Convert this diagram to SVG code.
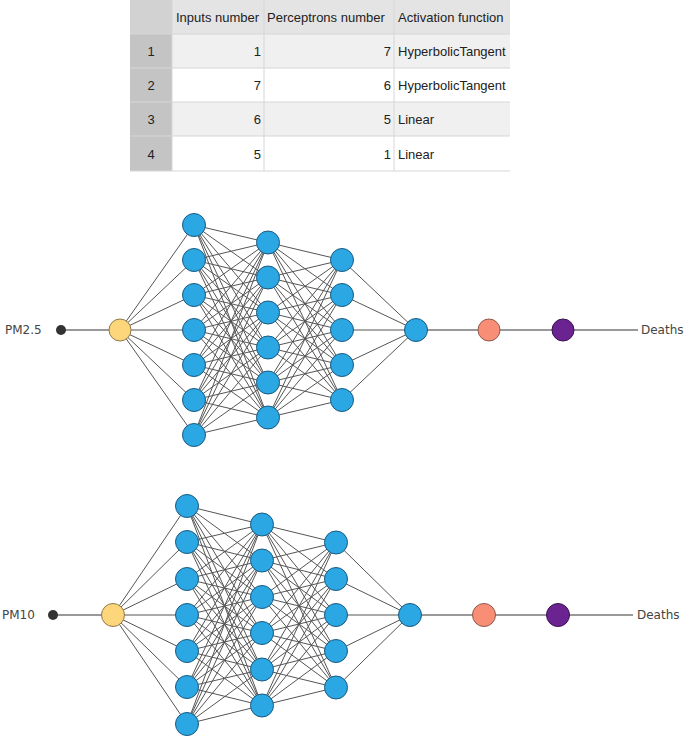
<svg xmlns="http://www.w3.org/2000/svg" width="686" height="739" viewBox="0 0 686 739">
<style>
.tt{font-family:"Liberation Sans",Arial,sans-serif;font-size:13px;fill:#222}
.r{text-anchor:end}
.c{text-anchor:middle}
.lb{font-family:"DejaVu Sans",Verdana,sans-serif;font-size:12px;fill:#444}
.cn line{stroke:#555;stroke-width:1}
.io line{stroke:#777;stroke-width:1.3}
.b{fill:#2ba7e3;stroke:#1c5a80;stroke-width:1}
.y{fill:#fdd57a;stroke:#8d7a4c;stroke-width:1}
.s{fill:#f98e76;stroke:#8e5a4e;stroke-width:1}
.p{fill:#6a2390;stroke:#3a1452;stroke-width:1}
.d{fill:#333}
</style>
<rect width="686" height="739" fill="#fff"/>
<g id="table">
<rect x="130" y="0" width="380" height="34" fill="#e4e4e4"/>
<rect x="130" y="0" width="42" height="34" fill="#d2d2d2"/>
<rect x="130" y="34" width="42" height="137" fill="#c4c4c4"/>
<rect x="172" y="34" width="338" height="34" fill="#f0f0f0"/>
<rect x="172" y="68" width="338" height="34" fill="#fff"/>
<rect x="172" y="102" width="338" height="34" fill="#f0f0f0"/>
<rect x="172" y="136" width="338" height="35" fill="#fff"/>
<g stroke="#d6d6d6" stroke-width="1">
<line x1="130" y1="34" x2="510" y2="34"/>
<line x1="130" y1="68" x2="510" y2="68"/>
<line x1="130" y1="102" x2="510" y2="102"/>
<line x1="130" y1="136" x2="510" y2="136"/>
<line x1="130" y1="171" x2="510" y2="171"/>
<line x1="172" y1="0" x2="172" y2="171"/>
<line x1="264" y1="0" x2="264" y2="171"/>
<line x1="394" y1="0" x2="394" y2="171"/>
</g>
<text class="tt" x="176" y="22">Inputs number</text>
<text class="tt" x="267" y="22">Perceptrons number</text>
<text class="tt" x="398" y="22">Activation function</text>
<text class="tt c" x="151" y="56">1</text>
<text class="tt c" x="151" y="90">2</text>
<text class="tt c" x="151" y="124">3</text>
<text class="tt c" x="151" y="159">4</text>
<text class="tt r" x="261" y="56">1</text>
<text class="tt r" x="261" y="90">7</text>
<text class="tt r" x="261" y="124">6</text>
<text class="tt r" x="261" y="159">5</text>
<text class="tt r" x="391" y="56">7</text>
<text class="tt r" x="391" y="90">6</text>
<text class="tt r" x="391" y="124">5</text>
<text class="tt r" x="391" y="159">1</text>
<text class="tt" x="398" y="56">HyperbolicTangent</text>
<text class="tt" x="398" y="90">HyperbolicTangent</text>
<text class="tt" x="398" y="124">Linear</text>
<text class="tt" x="398" y="159">Linear</text>
</g>
<g id="connectors">
<g class="io">
<line x1="61" y1="330" x2="120" y2="330"/>
<line x1="416" y1="330" x2="638" y2="330"/>
<line x1="53" y1="615" x2="113" y2="615"/>
<line x1="410" y1="615" x2="633" y2="615"/>
</g>
<g class="cn">
<line x1="120" y1="330" x2="194" y2="225"/><line x1="120" y1="330" x2="194" y2="260"/><line x1="120" y1="330" x2="194" y2="295"/><line x1="120" y1="330" x2="194" y2="330"/><line x1="120" y1="330" x2="194" y2="365"/><line x1="120" y1="330" x2="194" y2="400"/><line x1="120" y1="330" x2="194" y2="435"/>
<line x1="194" y1="225" x2="268" y2="242.5"/><line x1="194" y1="225" x2="268" y2="277.5"/><line x1="194" y1="225" x2="268" y2="312.5"/><line x1="194" y1="225" x2="268" y2="347.5"/><line x1="194" y1="225" x2="268" y2="382.5"/><line x1="194" y1="225" x2="268" y2="417.5"/>
<line x1="194" y1="260" x2="268" y2="242.5"/><line x1="194" y1="260" x2="268" y2="277.5"/><line x1="194" y1="260" x2="268" y2="312.5"/><line x1="194" y1="260" x2="268" y2="347.5"/><line x1="194" y1="260" x2="268" y2="382.5"/><line x1="194" y1="260" x2="268" y2="417.5"/>
<line x1="194" y1="295" x2="268" y2="242.5"/><line x1="194" y1="295" x2="268" y2="277.5"/><line x1="194" y1="295" x2="268" y2="312.5"/><line x1="194" y1="295" x2="268" y2="347.5"/><line x1="194" y1="295" x2="268" y2="382.5"/><line x1="194" y1="295" x2="268" y2="417.5"/>
<line x1="194" y1="330" x2="268" y2="242.5"/><line x1="194" y1="330" x2="268" y2="277.5"/><line x1="194" y1="330" x2="268" y2="312.5"/><line x1="194" y1="330" x2="268" y2="347.5"/><line x1="194" y1="330" x2="268" y2="382.5"/><line x1="194" y1="330" x2="268" y2="417.5"/>
<line x1="194" y1="365" x2="268" y2="242.5"/><line x1="194" y1="365" x2="268" y2="277.5"/><line x1="194" y1="365" x2="268" y2="312.5"/><line x1="194" y1="365" x2="268" y2="347.5"/><line x1="194" y1="365" x2="268" y2="382.5"/><line x1="194" y1="365" x2="268" y2="417.5"/>
<line x1="194" y1="400" x2="268" y2="242.5"/><line x1="194" y1="400" x2="268" y2="277.5"/><line x1="194" y1="400" x2="268" y2="312.5"/><line x1="194" y1="400" x2="268" y2="347.5"/><line x1="194" y1="400" x2="268" y2="382.5"/><line x1="194" y1="400" x2="268" y2="417.5"/>
<line x1="194" y1="435" x2="268" y2="242.5"/><line x1="194" y1="435" x2="268" y2="277.5"/><line x1="194" y1="435" x2="268" y2="312.5"/><line x1="194" y1="435" x2="268" y2="347.5"/><line x1="194" y1="435" x2="268" y2="382.5"/><line x1="194" y1="435" x2="268" y2="417.5"/>
<line x1="268" y1="242.5" x2="342" y2="260"/><line x1="268" y1="242.5" x2="342" y2="295"/><line x1="268" y1="242.5" x2="342" y2="330"/><line x1="268" y1="242.5" x2="342" y2="365"/><line x1="268" y1="242.5" x2="342" y2="400"/>
<line x1="268" y1="277.5" x2="342" y2="260"/><line x1="268" y1="277.5" x2="342" y2="295"/><line x1="268" y1="277.5" x2="342" y2="330"/><line x1="268" y1="277.5" x2="342" y2="365"/><line x1="268" y1="277.5" x2="342" y2="400"/>
<line x1="268" y1="312.5" x2="342" y2="260"/><line x1="268" y1="312.5" x2="342" y2="295"/><line x1="268" y1="312.5" x2="342" y2="330"/><line x1="268" y1="312.5" x2="342" y2="365"/><line x1="268" y1="312.5" x2="342" y2="400"/>
<line x1="268" y1="347.5" x2="342" y2="260"/><line x1="268" y1="347.5" x2="342" y2="295"/><line x1="268" y1="347.5" x2="342" y2="330"/><line x1="268" y1="347.5" x2="342" y2="365"/><line x1="268" y1="347.5" x2="342" y2="400"/>
<line x1="268" y1="382.5" x2="342" y2="260"/><line x1="268" y1="382.5" x2="342" y2="295"/><line x1="268" y1="382.5" x2="342" y2="330"/><line x1="268" y1="382.5" x2="342" y2="365"/><line x1="268" y1="382.5" x2="342" y2="400"/>
<line x1="268" y1="417.5" x2="342" y2="260"/><line x1="268" y1="417.5" x2="342" y2="295"/><line x1="268" y1="417.5" x2="342" y2="330"/><line x1="268" y1="417.5" x2="342" y2="365"/><line x1="268" y1="417.5" x2="342" y2="400"/>
<line x1="342" y1="260" x2="416" y2="330"/><line x1="342" y1="295" x2="416" y2="330"/><line x1="342" y1="330" x2="416" y2="330"/><line x1="342" y1="365" x2="416" y2="330"/><line x1="342" y1="400" x2="416" y2="330"/>

<line x1="113" y1="615" x2="187" y2="506"/><line x1="113" y1="615" x2="187" y2="542"/><line x1="113" y1="615" x2="187" y2="579"/><line x1="113" y1="615" x2="187" y2="615"/><line x1="113" y1="615" x2="187" y2="651"/><line x1="113" y1="615" x2="187" y2="687"/><line x1="113" y1="615" x2="187" y2="724"/>
<line x1="187" y1="506" x2="262" y2="524.5"/><line x1="187" y1="506" x2="262" y2="560.5"/><line x1="187" y1="506" x2="262" y2="597"/><line x1="187" y1="506" x2="262" y2="633"/><line x1="187" y1="506" x2="262" y2="669.5"/><line x1="187" y1="506" x2="262" y2="705.5"/>
<line x1="187" y1="542" x2="262" y2="524.5"/><line x1="187" y1="542" x2="262" y2="560.5"/><line x1="187" y1="542" x2="262" y2="597"/><line x1="187" y1="542" x2="262" y2="633"/><line x1="187" y1="542" x2="262" y2="669.5"/><line x1="187" y1="542" x2="262" y2="705.5"/>
<line x1="187" y1="579" x2="262" y2="524.5"/><line x1="187" y1="579" x2="262" y2="560.5"/><line x1="187" y1="579" x2="262" y2="597"/><line x1="187" y1="579" x2="262" y2="633"/><line x1="187" y1="579" x2="262" y2="669.5"/><line x1="187" y1="579" x2="262" y2="705.5"/>
<line x1="187" y1="615" x2="262" y2="524.5"/><line x1="187" y1="615" x2="262" y2="560.5"/><line x1="187" y1="615" x2="262" y2="597"/><line x1="187" y1="615" x2="262" y2="633"/><line x1="187" y1="615" x2="262" y2="669.5"/><line x1="187" y1="615" x2="262" y2="705.5"/>
<line x1="187" y1="651" x2="262" y2="524.5"/><line x1="187" y1="651" x2="262" y2="560.5"/><line x1="187" y1="651" x2="262" y2="597"/><line x1="187" y1="651" x2="262" y2="633"/><line x1="187" y1="651" x2="262" y2="669.5"/><line x1="187" y1="651" x2="262" y2="705.5"/>
<line x1="187" y1="687" x2="262" y2="524.5"/><line x1="187" y1="687" x2="262" y2="560.5"/><line x1="187" y1="687" x2="262" y2="597"/><line x1="187" y1="687" x2="262" y2="633"/><line x1="187" y1="687" x2="262" y2="669.5"/><line x1="187" y1="687" x2="262" y2="705.5"/>
<line x1="187" y1="724" x2="262" y2="524.5"/><line x1="187" y1="724" x2="262" y2="560.5"/><line x1="187" y1="724" x2="262" y2="597"/><line x1="187" y1="724" x2="262" y2="633"/><line x1="187" y1="724" x2="262" y2="669.5"/><line x1="187" y1="724" x2="262" y2="705.5"/>
<line x1="262" y1="524.5" x2="336" y2="542.5"/><line x1="262" y1="524.5" x2="336" y2="579"/><line x1="262" y1="524.5" x2="336" y2="615"/><line x1="262" y1="524.5" x2="336" y2="651"/><line x1="262" y1="524.5" x2="336" y2="687.5"/>
<line x1="262" y1="560.5" x2="336" y2="542.5"/><line x1="262" y1="560.5" x2="336" y2="579"/><line x1="262" y1="560.5" x2="336" y2="615"/><line x1="262" y1="560.5" x2="336" y2="651"/><line x1="262" y1="560.5" x2="336" y2="687.5"/>
<line x1="262" y1="597" x2="336" y2="542.5"/><line x1="262" y1="597" x2="336" y2="579"/><line x1="262" y1="597" x2="336" y2="615"/><line x1="262" y1="597" x2="336" y2="651"/><line x1="262" y1="597" x2="336" y2="687.5"/>
<line x1="262" y1="633" x2="336" y2="542.5"/><line x1="262" y1="633" x2="336" y2="579"/><line x1="262" y1="633" x2="336" y2="615"/><line x1="262" y1="633" x2="336" y2="651"/><line x1="262" y1="633" x2="336" y2="687.5"/>
<line x1="262" y1="669.5" x2="336" y2="542.5"/><line x1="262" y1="669.5" x2="336" y2="579"/><line x1="262" y1="669.5" x2="336" y2="615"/><line x1="262" y1="669.5" x2="336" y2="651"/><line x1="262" y1="669.5" x2="336" y2="687.5"/>
<line x1="262" y1="705.5" x2="336" y2="542.5"/><line x1="262" y1="705.5" x2="336" y2="579"/><line x1="262" y1="705.5" x2="336" y2="615"/><line x1="262" y1="705.5" x2="336" y2="651"/><line x1="262" y1="705.5" x2="336" y2="687.5"/>
<line x1="336" y1="542.5" x2="410" y2="615"/><line x1="336" y1="579" x2="410" y2="615"/><line x1="336" y1="615" x2="410" y2="615"/><line x1="336" y1="651" x2="410" y2="615"/><line x1="336" y1="687.5" x2="410" y2="615"/>
</g>
</g>
<g id="net1">
<g id="n1-input"><circle class="d" cx="61" cy="330" r="5"/><text class="lb" x="5" y="334">PM2.5</text></g>
<g id="n1-scale"><circle class="y" cx="120" cy="330" r="11"/></g>
<g id="n1-l1">
<circle class="b" cx="194" cy="225" r="11.5"/><circle class="b" cx="194" cy="260" r="11.5"/><circle class="b" cx="194" cy="295" r="11.5"/><circle class="b" cx="194" cy="330" r="11.5"/><circle class="b" cx="194" cy="365" r="11.5"/><circle class="b" cx="194" cy="400" r="11.5"/><circle class="b" cx="194" cy="435" r="11.5"/>
</g>
<g id="n1-l2">
<circle class="b" cx="268" cy="242.5" r="11.5"/><circle class="b" cx="268" cy="277.5" r="11.5"/><circle class="b" cx="268" cy="312.5" r="11.5"/><circle class="b" cx="268" cy="347.5" r="11.5"/><circle class="b" cx="268" cy="382.5" r="11.5"/><circle class="b" cx="268" cy="417.5" r="11.5"/>
</g>
<g id="n1-l3">
<circle class="b" cx="342" cy="260" r="11.5"/><circle class="b" cx="342" cy="295" r="11.5"/><circle class="b" cx="342" cy="330" r="11.5"/><circle class="b" cx="342" cy="365" r="11.5"/><circle class="b" cx="342" cy="400" r="11.5"/>
</g>
<g id="n1-out"><circle class="b" cx="416" cy="330" r="11.5"/></g>
<g id="n1-unscale"><circle class="s" cx="489" cy="330" r="11"/></g>
<g id="n1-bound"><circle class="p" cx="563" cy="330" r="11"/></g>
<g id="n1-deaths"><text class="lb" x="641" y="334">Deaths</text></g>
</g>
<g id="net2">
<g id="n2-input"><circle class="d" cx="53" cy="615" r="5"/><text class="lb" x="2" y="619">PM10</text></g>
<g id="n2-scale"><circle class="y" cx="113" cy="615" r="11.5"/></g>
<g id="n2-l1">
<circle class="b" cx="187" cy="506" r="11.5"/><circle class="b" cx="187" cy="542" r="11.5"/><circle class="b" cx="187" cy="579" r="11.5"/><circle class="b" cx="187" cy="615" r="11.5"/><circle class="b" cx="187" cy="651" r="11.5"/><circle class="b" cx="187" cy="687" r="11.5"/><circle class="b" cx="187" cy="724" r="11.5"/>
</g>
<g id="n2-l2">
<circle class="b" cx="262" cy="524.5" r="11.5"/><circle class="b" cx="262" cy="560.5" r="11.5"/><circle class="b" cx="262" cy="597" r="11.5"/><circle class="b" cx="262" cy="633" r="11.5"/><circle class="b" cx="262" cy="669.5" r="11.5"/><circle class="b" cx="262" cy="705.5" r="11.5"/>
</g>
<g id="n2-l3">
<circle class="b" cx="336" cy="542.5" r="11.5"/><circle class="b" cx="336" cy="579" r="11.5"/><circle class="b" cx="336" cy="615" r="11.5"/><circle class="b" cx="336" cy="651" r="11.5"/><circle class="b" cx="336" cy="687.5" r="11.5"/>
</g>
<g id="n2-out"><circle class="b" cx="410" cy="615" r="11.5"/></g>
<g id="n2-unscale"><circle class="s" cx="484" cy="615" r="11.5"/></g>
<g id="n2-bound"><circle class="p" cx="558" cy="615" r="11.5"/></g>
<g id="n2-deaths"><text class="lb" x="637" y="619">Deaths</text></g>
</g>
</svg>
